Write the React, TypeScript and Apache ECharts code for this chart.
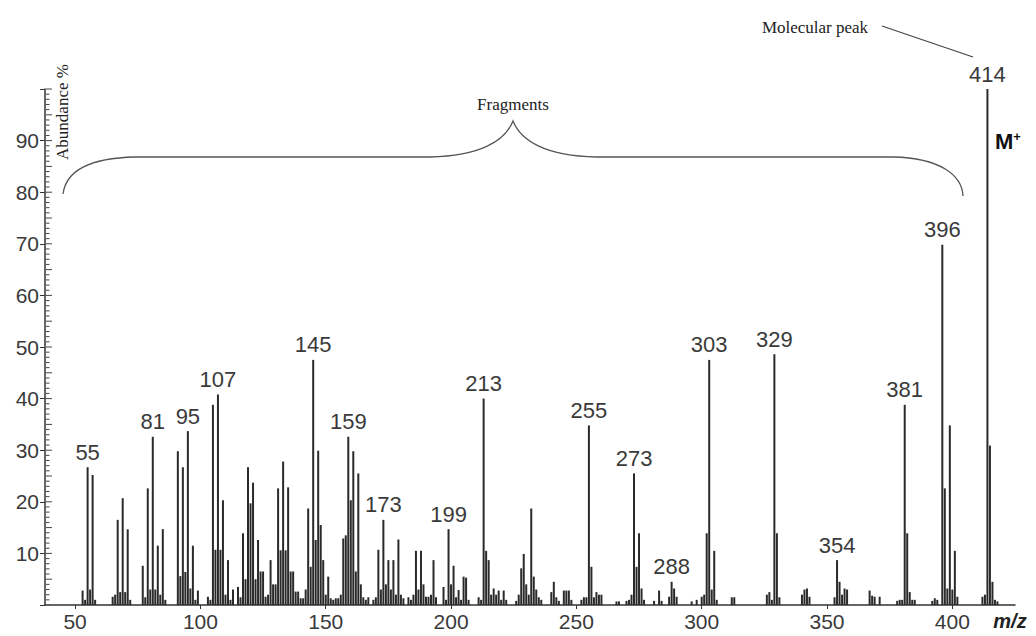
import React, { useEffect, useRef } from "react";
import * as echarts from "echarts";

// m/z values of the spectrum peaks
const mzValues = [
  53, 54, 55, 56, 57, 58, 65, 66, 67, 68, 69, 70, 71, 72, 77, 78, 79, 80, 81, 82, 83, 84, 85, 86,
  91, 92, 93, 94, 95, 96, 97, 98, 99, 103, 104, 105, 106, 107, 108, 109, 110, 111, 112, 113, 115, 116,
  117, 118, 119, 120, 121, 122, 123, 124, 125, 126, 127, 128, 129, 130, 131, 132, 133, 134, 135, 136,
  137, 138, 139, 140, 141, 142, 143, 144, 145, 146, 147, 148, 149, 150, 151, 152, 153, 154, 155, 156,
  157, 158, 159, 160, 161, 162, 163, 164, 165, 166, 167, 169, 170, 171, 172, 173, 174, 175, 176, 177,
  178, 179, 180, 181, 183, 184, 185, 186, 187, 188, 189, 190, 191, 192, 193, 194, 197, 198, 199, 200,
  201, 202, 203, 204, 205, 206, 207, 211, 212, 213, 214, 215, 216, 217, 218, 219, 220, 221, 222, 226,
  227, 228, 229, 230, 231, 232, 233, 234, 235, 236, 240, 241, 242, 243, 245, 246, 247, 248, 252, 253,
  254, 255, 256, 257, 258, 259, 260, 266, 267, 270, 271, 272, 273, 274, 275, 276, 277, 281, 283, 284,
  287, 288, 289, 290, 296, 298, 300, 301, 302, 303, 304, 305, 306, 312, 313, 326, 327, 328, 329, 330,
  331, 340, 341, 342, 343, 353, 354, 355, 356, 357, 358, 367, 368, 369, 371, 378, 379, 380, 381, 382,
  383, 384, 385, 392, 393, 394, 396, 397, 398, 399, 400, 401, 402, 412, 413, 414, 415, 416, 417, 418,
];

// relative abundance (%) of each peak
const abundances = [
  2.8, 1.0, 26.7, 3.0, 25.2, 1.0, 1.6, 2.0, 16.5, 2.5, 20.7, 2.5, 14.7, 1.0, 7.6, 1.5, 22.6, 3.0, 32.6, 3.0, 11.5, 2.0, 14.7, 1.0,
  29.8, 5.6, 26.7, 6.4, 33.7, 3.2, 11.5, 1.0, 2.8, 1.6, 1.0, 38.8, 10.7, 40.8, 10.7, 20.3, 2.0, 8.7, 1.0, 3.0, 3.5, 1.5,
  13.9, 5.0, 26.7, 19.7, 23.7, 5.0, 12.6, 6.5, 6.5, 1.6, 2.0, 8.7, 4.0, 4.0, 22.6, 10.6, 27.8, 10.6, 22.8, 6.5,
  6.5, 2.6, 2.6, 1.3, 1.3, 3.0, 18.7, 7.4, 47.5, 12.6, 29.9, 15.5, 8.7, 2.0, 5.5, 1.3, 1.0, 1.3, 1.3, 2.0,
  12.9, 13.5, 32.6, 20.3, 29.8, 6.5, 25.5, 4.0, 1.5, 1.0, 1.5, 1.0, 1.5, 10.7, 3.0, 16.5, 4.0, 8.7, 3.0, 8.7,
  2.0, 12.7, 2.0, 1.3, 1.5, 1.0, 2.0, 10.5, 3.0, 10.5, 4.0, 1.6, 1.6, 2.0, 8.7, 1.5, 3.5, 1.0, 14.7, 4.0,
  7.6, 1.5, 2.9, 1.0, 5.5, 5.3, 1.0, 1.5, 1.0, 40.0, 10.5, 8.7, 2.0, 3.2, 2.0, 2.8, 1.0, 2.8, 1.0, 0.8,
  2.0, 7.1, 9.9, 4.0, 2.0, 18.7, 5.5, 3.0, 1.5, 1.0, 2.5, 4.5, 1.5, 0.8, 2.8, 2.8, 2.8, 1.0, 1.0, 1.5,
  1.5, 34.8, 7.4, 1.5, 2.5, 2.0, 2.0, 0.7, 0.7, 0.8, 1.0, 2.0, 25.5, 7.4, 13.9, 3.2, 1.0, 0.8, 2.8, 0.8,
  1.6, 4.5, 3.2, 1.6, 0.7, 1.0, 1.6, 2.0, 13.9, 47.5, 3.0, 10.5, 1.0, 1.5, 1.5, 2.0, 2.5, 1.0, 48.6, 13.9,
  1.5, 2.0, 3.0, 3.2, 1.6, 1.5, 8.7, 4.5, 2.0, 3.2, 3.0, 2.8, 1.8, 1.6, 1.6, 0.8, 1.0, 1.0, 38.8, 13.9,
  2.5, 1.0, 1.0, 0.8, 1.3, 1.0, 69.8, 22.6, 3.2, 34.8, 3.0, 10.5, 1.6, 1.6, 2.0, 100, 30.9, 4.5, 1.0, 0.7,
];

// peaks that carry an m/z label
const labeledPeaks = [55, 81, 95, 107, 145, 159, 173, 199, 213, 255, 273, 288, 303, 329, 354, 381, 396, 414];

// axis tick values
const xTickValues = [50, 100, 150, 200, 250, 300, 350, 400];
const yTickValues = [10, 20, 30, 40, 50, 60, 70, 80, 90];

// minor tick positions on the abundance axis (every 1 %)
const yMinorTicks: number[] = [];
for (let v = 1; v <= 100; v++) yMinorTicks.push(v);

const X_MIN = 38;
const X_MAX = 425;

const braceD =
  "M 63 194 C 66 171 90 158 135 157 L 430 157 C 480 156 505 141 513 121 C 521 141 546 156 596 157 L 893 157 C 940 158 962 175 963 196";
echarts.graphic.registerShape("brace", echarts.graphic.extendPath(braceD, {}) as any);

export default function App() {
  const ref = useRef<HTMLDivElement>(null);
  useEffect(() => {
    document.body.style.margin = "0";
    const chart = echarts.init(ref.current!, null, { renderer: "svg" });
    const data = mzValues.map((m, i) => ({
      value: [m, abundances[i]],
      label: { show: labeledPeaks.includes(m) },
    }));
    const labelFont = "'Liberation Sans', Arial, sans-serif";
    const serif = "'Liberation Serif', 'Times New Roman', serif";
    chart.setOption({
      animation: false,
      backgroundColor: "#ffffff",
      grid: { left: 45, right: 21, top: 89, bottom: 31, containLabel: false },
      xAxis: {
        type: "value",
        min: X_MIN,
        max: X_MAX,
        splitLine: { show: false },
        axisLine: { show: true, lineStyle: { color: "#333", width: 1.5 } },
        axisTick: { show: true, customValues: xTickValues, length: 4, lineStyle: { color: "#333" } },
        axisLabel: {
          customValues: xTickValues,
          fontSize: 21,
          color: "#3a3a3a",
          margin: 6,
          fontFamily: labelFont,
        },
      },
      yAxis: {
        type: "value",
        min: 0,
        max: 100,
        interval: 10,
        splitLine: { show: false },
        axisLine: { show: true, lineStyle: { color: "#333", width: 1.5 } },
        axisTick: { show: true, length: 5, lineStyle: { color: "#333" } },
        axisLabel: {
          fontSize: 21,
          color: "#3a3a3a",
          margin: 6,
          fontFamily: labelFont,
          formatter: (v: number) => (yTickValues.includes(v) ? String(v) : ""),
        },
      },
      series: [
        {
          type: "bar",
          barWidth: 2,
          itemStyle: { color: "#2a2a2a" },
          label: {
            show: false,
            position: "top",
            distance: 4,
            fontSize: 22,
            color: "#3a3a3a",
            fontFamily: labelFont,
            formatter: (p: any) => String(p.value[0]),
          },
          data,
        },
        {
          type: "custom",
          silent: true,
          clip: false,
          z: 5,
          data: yMinorTicks.map((v) => [X_MIN, v]),
          renderItem: (_params: any, api: any) => {
            const v = api.value(1);
            const p = api.coord([X_MIN, v]);
            const len = v % 5 === 0 ? 6 : 3.5;
            return {
              type: "line",
              shape: { x1: p[0] + 1, y1: p[1], x2: p[0] + 1 + len, y2: p[1] },
              style: { stroke: "#444", lineWidth: 1 },
            };
          },
        },
      ],
      graphic: [
        {
          type: "brace",
          x: 0,
          y: 0,
          style: { fill: "none", stroke: "#555", lineWidth: 1.3 },
        },
        {
          type: "text",
          x: 513,
          y: 104,
          style: { text: "Fragments", font: `17px ${serif}`, fill: "#222", textAlign: "center", textVerticalAlign: "middle" },
        },
        {
          type: "text",
          x: 815,
          y: 27,
          style: { text: "Molecular peak", font: `17px ${serif}`, fill: "#222", textAlign: "center", textVerticalAlign: "middle" },
        },
        {
          type: "line",
          shape: { x1: 882, y1: 26, x2: 973, y2: 57 },
          style: { stroke: "#444", lineWidth: 1.2 },
        },
        {
          type: "text",
          x: 62,
          y: 112,
          rotation: Math.PI / 2,
          style: { text: "Abundance %", font: `17px ${serif}`, fill: "#222", textAlign: "center", textVerticalAlign: "middle" },
        },
        {
          type: "text",
          x: 995,
          y: 141,
          style: {
            text: "{m|M}{p|+}",
            textVerticalAlign: "middle",
            rich: {
              m: { fontSize: 22, fontWeight: "bold", fontFamily: labelFont, fill: "#111" },
              p: { fontSize: 13, fontWeight: "bold", fontFamily: labelFont, fill: "#111", verticalAlign: "top", padding: [0, 0, 10, 0] },
            },
          },
        },
        {
          type: "text",
          x: 1010,
          y: 621,
          style: {
            text: "m/z",
            font: `italic bold 20px ${labelFont}`,
            fill: "#222",
            textAlign: "center",
            textVerticalAlign: "middle",
          },
        },
      ],
    });
    return () => chart.dispose();
  }, []);
  return <div ref={ref} style={{ width: 1036, height: 636 }} />;
}
